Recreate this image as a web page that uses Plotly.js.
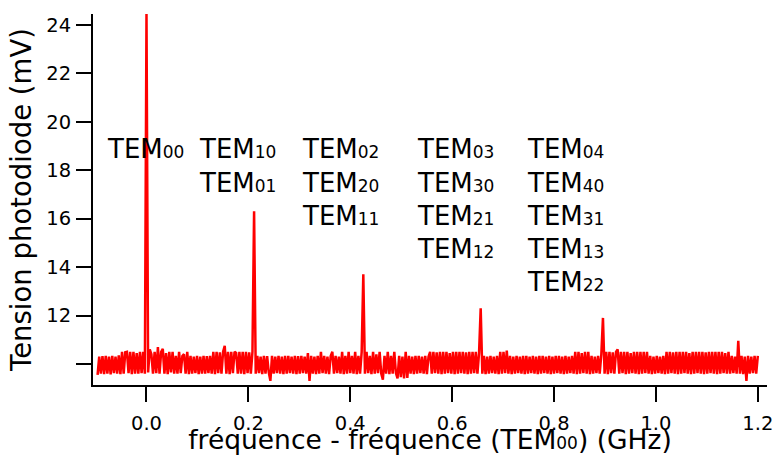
<!DOCTYPE html>
<html>
<head>
<meta charset="utf-8">
<script src="https://cdn.plot.ly/plotly-3.0.1.min.js"></script>
<style>html,body{margin:0;padding:0;background:#fff;}#chart{width:775px;height:455px;}</style>
</head>
<body>
<div id="chart"></div>
<script>
// Sampling grid of the frequency axis (GHz, relative to TEM00)
const freqStart = -0.096;
const freqStep = 0.0032;

// Photodiode voltage (mV), one value per sample
const tension = [
  9.55, 10.3, 9.6, 10.32, 9.58, 10.33, 9.6, 10.3, 9.57, 10.33,
  9.62, 10.3, 9.6, 10.35, 9.58, 10.5, 9.6, 10.48, 10.5, 9.62,
  10.5, 9.58, 10.5, 9.6, 10.45, 9.6, 10.5, 9.62, 10.5, 9.6,
  24.45, 9.65, 10.6, 10.4, 9.6, 10.5, 9.62, 10.7, 9.6, 10.5,
  10.62, 9.6, 10.45, 9.58, 10.5, 9.65, 10.5, 9.6, 10.33, 9.6,
  10.5, 9.62, 10.33, 10.4, 9.6, 10.5, 9.58, 10.33, 9.6, 10.3,
  9.62, 10.33, 9.58, 10.3, 9.6, 10.33, 9.6, 10.32, 9.62, 10.33,
  9.6, 10.5, 9.58, 10.5, 9.62, 10.48, 9.6, 10.5, 10.75, 9.6,
  10.5, 9.58, 10.5, 9.62, 10.5, 10.45, 9.6, 10.5, 9.6, 10.5,
  9.58, 10.5, 9.62, 10.48, 9.6, 10.5, 16.3, 9.6, 10.33, 9.62,
  10.3, 9.58, 10.33, 9.6, 10.32, 9.65, 9.3, 10.33, 9.6, 10.3,
  9.62, 10.33, 9.6, 10.3, 9.58, 10.33, 9.6, 10.33, 9.62, 10.3,
  9.6, 10.33, 9.58, 10.32, 9.6, 10.33, 9.62, 10.3, 9.6, 10.45,
  9.3, 10.33, 9.6, 10.3, 9.58, 10.33, 9.6, 10.5, 9.62, 10.33,
  9.6, 10.3, 9.58, 10.33, 10.5, 9.6, 10.33, 9.62, 10.3, 9.6,
  10.5, 9.58, 10.33, 9.6, 10.5, 9.62, 10.33, 9.6, 10.5, 9.58,
  10.33, 9.6, 10.5, 13.7, 9.6, 10.5, 9.62, 10.33, 9.58, 10.5,
  9.6, 10.4, 9.62, 10.5, 9.6, 9.35, 10.33, 9.6, 10.5, 9.58,
  10.33, 9.6, 10.5, 9.62, 9.4, 10.33, 9.45, 10.3, 9.4, 10.5,
  9.42, 10.33, 9.6, 10.3, 9.58, 10.33, 9.6, 10.33, 9.62, 10.3,
  9.6, 10.33, 9.58, 10.3, 10.5, 9.6, 10.5, 9.62, 10.48, 9.6,
  10.5, 9.58, 10.5, 9.6, 10.5, 9.62, 10.45, 9.6, 10.5, 9.58,
  10.5, 9.6, 10.5, 9.62, 10.5, 9.6, 10.48, 9.58, 10.5, 9.6,
  10.5, 9.62, 10.5, 9.6, 10.45, 12.3, 9.6, 10.33, 9.58, 10.3,
  9.6, 10.33, 9.62, 10.3, 9.6, 10.33, 9.58, 10.5, 9.6, 10.5,
  9.62, 10.55, 9.6, 10.33, 9.58, 10.3, 9.6, 10.33, 9.62, 10.3,
  9.6, 10.33, 9.58, 10.33, 9.6, 10.3, 9.62, 10.33, 9.6, 10.3,
  9.58, 10.33, 9.6, 10.33, 9.62, 10.3, 9.6, 10.33, 9.58, 10.3,
  9.6, 10.33, 9.62, 10.33, 9.6, 10.3, 9.58, 10.33, 9.6, 10.3,
  9.62, 10.33, 9.6, 10.5, 9.58, 10.5, 9.6, 10.45, 9.62, 10.5,
  9.6, 10.5, 9.58, 10.33, 9.6, 10.3, 9.62, 10.33, 9.6, 10.4,
  11.9, 9.6, 10.5, 9.58, 10.5, 9.62, 10.48, 9.6, 10.5, 10.6,
  9.6, 10.5, 9.62, 10.5, 9.58, 10.5, 9.6, 10.45, 9.62, 10.5,
  9.6, 10.5, 9.58, 10.5, 9.6, 10.5, 9.62, 10.5, 9.6, 10.33,
  9.58, 10.3, 9.6, 10.33, 9.62, 10.3, 9.6, 10.33, 9.58, 10.5,
  9.6, 10.5, 9.62, 10.48, 9.6, 10.5, 9.58, 10.5, 9.6, 10.5,
  9.62, 10.5, 9.6, 10.45, 9.58, 10.5, 9.6, 10.5, 9.62, 10.5,
  9.6, 10.5, 9.58, 10.48, 9.6, 10.5, 9.62, 10.5, 9.6, 10.5,
  9.58, 10.5, 9.6, 10.5, 9.62, 10.45, 9.6, 10.5, 9.6, 10.33,
  9.62, 10.3, 9.6, 10.95, 9.6, 10.33, 9.58, 10.3, 9.3, 10.33,
  9.6, 10.3, 9.62, 10.33, 9.6, 10.33
];

// Tick labels
const xTickVals = [0.0, 0.2, 0.4, 0.6, 0.8, 1.0, 1.2];
const xTickText = ["0.0", "0.2", "0.4", "0.6", "0.8", "1.0", "1.2"];
const yTickVals = [10, 12, 14, 16, 18, 20, 22, 24];
const yTickText = ["", "12", "14", "16", "18", "20", "22", "24"];

// Mode labels, grouped per peak
const modeGroups = [
  ["00"],
  ["10", "01"],
  ["02", "20", "11"],
  ["03", "30", "21", "12"],
  ["04", "40", "31", "13", "22"]
];

const freq = tension.map((_, i) => freqStart + freqStep * i);

const FONT = "DejaVu Sans, sans-serif";
const sub = s => '<span style="font-size:17px">' + s + '</span>';

// label placement (layout only)
const groupLeft = [-0.081, 0.1, 0.302, 0.528, 0.742];
const firstRowY = 18.86;
const rowStep = 1.37;

const annotations = [];
modeGroups.forEach((g, gi) => {
  g.forEach((m, ri) => {
    annotations.push({
      x: groupLeft[gi], y: firstRowY - rowStep * ri,
      xref: "x", yref: "y",
      xanchor: "left", yanchor: "middle",
      text: "TEM" + sub(m),
      showarrow: false,
      font: {family: FONT, size: 26, color: "#000"}
    });
  });
});

const trace = {
  x: freq, y: tension,
  type: "scatter", mode: "lines",
  line: {color: "#ff0000", width: 2.5},
  hoverinfo: "skip"
};

const layout = {
  width: 775, height: 455,
  margin: {l: 93, r: 8, t: 14, b: 70},
  paper_bgcolor: "#fff", plot_bgcolor: "#fff",
  showlegend: false,
  font: {family: FONT, color: "#000"},
  xaxis: {
    range: [-0.105, 1.218],
    tickvals: xTickVals, ticktext: xTickText,
    ticks: "outside", ticklen: 15, tickwidth: 2, tickcolor: "#000",
    showline: true, linewidth: 2, linecolor: "#000",
    showgrid: false, zeroline: false,
    tickfont: {family: FONT, size: 19.5, color: "#000"},
    ticklabelstandoff: 5,
    title: {text: "fréquence - fréquence (TEM" + sub("00") + ") (GHz)", font: {family: FONT, size: 26.5, color: "#000"}, standoff: 5},
    automargin: false
  },
  yaxis: {
    range: [9.13, 24.45],
    tickvals: yTickVals, ticktext: yTickText,
    ticks: "outside", ticklen: 15, tickwidth: 2, tickcolor: "#000",
    showline: true, linewidth: 2, linecolor: "#000",
    showgrid: false, zeroline: false,
    tickfont: {family: FONT, size: 19.5, color: "#000"},
    ticklabelstandoff: 1,
    title: {text: "Tension photodiode (mV)", font: {family: FONT, size: 27.5, color: "#000"}, standoff: 7},
    automargin: false
  },
  annotations: annotations
};

Plotly.newPlot("chart", [trace], layout, {displayModeBar: false, staticPlot: true});
</script>
</body>
</html>
